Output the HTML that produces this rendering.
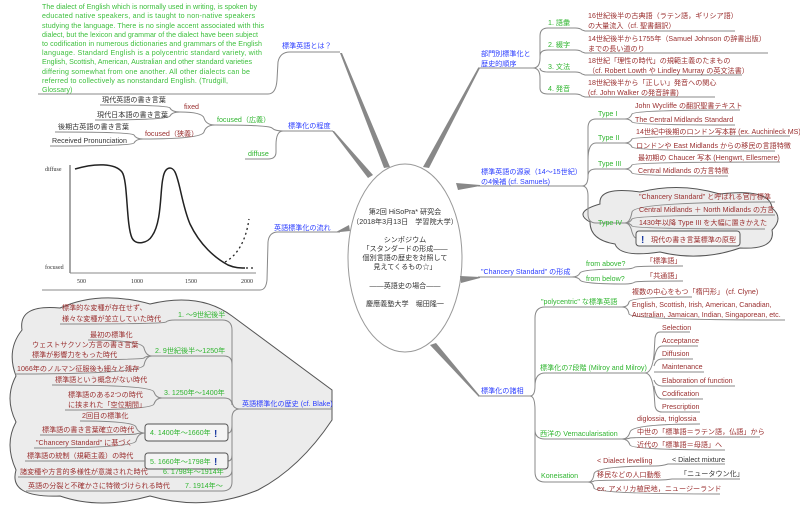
<!DOCTYPE html>
<html><head><meta charset="utf-8"><style>
html,body{margin:0;padding:0;background:#fff;}
svg{display:block;}
text{font-family:"Liberation Sans","Noto Sans CJK JP",sans-serif;font-size:7.1px;}
.b{fill:#2b3dff}.g{fill:#2fb52f}.r{fill:#9a2f2f}.k{fill:#333}
.u{stroke:#888;stroke-width:1;fill:none}
.p{font-size:7.4px;fill:#3cbf3c}
.s{font-family:"Liberation Serif",serif;font-size:6px;fill:#333}
</style></head><body>
<svg width="800" height="506" viewBox="0 0 800 506" xmlns="http://www.w3.org/2000/svg">
<!-- clouds -->
<path d="M22,330 Q18,304 60,308 Q100,290 150,304 Q200,292 232,316 L332,390 L332,420 Q300,468 258,490 Q205,512 150,496 Q100,510 60,496 Q8,498 16,470 Q4,444 16,422 Q4,398 16,376 Q6,350 22,330 Z" fill="#ececec" stroke="#555" stroke-width="1"/>
<path d="M590,222 Q572,212 600,204 Q598,186 640,192 Q680,182 720,194 Q770,188 772,208 Q784,218 772,230 Q776,250 740,248 Q700,262 660,252 Q620,258 615,244 Q590,240 590,222 Z" fill="#ececec" stroke="#555"/>
<!-- center ellipse -->
<ellipse cx="405" cy="258" rx="57" ry="94" fill="#fff" stroke="#999"/>
<!-- main tapered branches -->
<polygon points="384,168 390,167 342,53 340,53" fill="#888"/>
<polygon points="368,178 373,175 334,131 332,131" fill="#888"/>
<polygon points="349,225 350,231 340,232 336,232" fill="#888"/>
<polygon points="423,167 429,168 480,68 478,68" fill="#888"/>
<polygon points="456,183 458,190 480,186 480,185" fill="#888"/>
<polygon points="460,276 461,283 480,278 480,277" fill="#888"/>
<polygon points="430,345 436,343 480,396 478,396" fill="#888"/>
<!-- paragraph -->
<g class="p">
<text x="42" y="9" textLength="215" lengthAdjust="spacing">The dialect of English which is normally used in writing, is spoken by</text>
<text x="42" y="18" textLength="213" lengthAdjust="spacing">educated native speakers, and is taught to non-native speakers</text>
<text x="42" y="28" textLength="222" lengthAdjust="spacing">studying the language. There is no single accent associated with this</text>
<text x="42" y="37" textLength="216" lengthAdjust="spacing">dialect, but the lexicon and grammar of the dialect have been subject</text>
<text x="42" y="46" textLength="220" lengthAdjust="spacing">to codification in numerous dictionaries and grammars of the English</text>
<text x="42" y="55" textLength="220" lengthAdjust="spacing">language. Standard English is a polycentric standard variety, with</text>
<text x="42" y="64" textLength="210" lengthAdjust="spacing">English, Scottish, American, Australian and other standard varieties</text>
<text x="42" y="74" textLength="208" lengthAdjust="spacing">differing somewhat from one another. All other dialects can be</text>
<text x="42" y="83" textLength="186" lengthAdjust="spacing">referred to collectively as nonstandard English. (Trudgill,</text>
<text x="42" y="92">Glossary)</text>
</g>
<path class="u" d="M38,94 L268,94 Q276,94 277,80 L278,62 Q280,52 290,52 L340,52"/>
<text class="b" x="282" y="48">標準英語とは？</text>
<!-- 標準化の程度 -->
<text class="b" x="288" y="128">標準化の程度</text>
<path class="u" d="M333,131 L283,131 Q275,131 272,128 Q268,125 215,125"/>
<path class="u" d="M283,131 Q276,131 276,145 L276,152 Q276,159 268,159 L245,159"/>
<text class="g" x="217" y="122">focused（広義）</text>
<text class="g" x="248" y="156">diffuse</text>
<path class="u" d="M215,125 Q206,125 204,118 Q202,112 180,112"/>
<path class="u" d="M215,125 Q206,125 204,132 Q202,139 143,139"/>
<text class="r" x="184" y="109">fixed</text>
<text class="r" x="145" y="136">focused（狭義）</text>
<path class="u" d="M180,112 Q172,112 170,108 Q168,105 100,105"/>
<path class="u" d="M180,112 Q172,112 170,116 Q168,120 95,120"/>
<text class="k" x="102" y="102">現代英語の書き言葉</text>
<text class="k" x="97" y="117">現代日本語の書き言葉</text>
<path class="u" d="M143,139 Q136,139 134,135 Q132,132 55,132"/>
<path class="u" d="M143,139 Q136,139 134,143 Q132,146 50,146"/>
<text class="k" x="58" y="129">後期古英語の書き言葉</text>
<text class="k" x="52" y="143">Received Pronunciation</text>
<!-- graph -->
<line x1="70" y1="165" x2="70" y2="273" stroke="#888" stroke-width="1.5"/>
<line x1="70" y1="273" x2="256" y2="273" stroke="#888" stroke-width="1"/>
<text class="s" x="45" y="171">diffuse</text>
<text class="s" x="45" y="269">focused</text>
<text class="s" x="77" y="283">500</text>
<text class="s" x="131" y="283">1000</text>
<text class="s" x="185" y="283">1500</text>
<text class="s" x="241" y="283">2000</text>
<path d="M75,169 C95,163 115,163 122,172 C128,180 126,225 132,238 C136,246 148,243 152,236 C162,222 160,190 163,178 C165,166 172,166 175,172 C180,182 182,205 190,224 C200,245 215,258 228,265 C235,268 240,268 245,268" fill="none" stroke="#222" stroke-width="1.5"/>
<path d="M225,262 C238,255 246,240 249,219" fill="none" stroke="#222" stroke-width="1.3" stroke-dasharray="2,3"/>
<path d="M246,268 L256,268" stroke="#222" stroke-width="1.3" stroke-dasharray="2,3"/>
<path class="u" d="M42,290 L260,290 Q266,290 267,280 L268,242 Q269,232 278,232 L340,232"/>
<text class="b" x="274" y="230">英語標準化の流れ</text>
<!-- center text -->
<g class="k" text-anchor="middle">
<text x="405" y="214">第2回 HiSoPra* 研究会</text>
<text x="405" y="224">（2018年3月13日　学習院大学）</text>
<text x="405" y="242">シンポジウム</text>
<text x="405" y="251">「スタンダードの形成――</text>
<text x="405" y="260">個別言語の歴史を対照して</text>
<text x="405" y="269">見えてくるもの☆」</text>
<text x="405" y="288">――英語史の場合――</text>
<text x="405" y="306">慶應義塾大学　堀田隆一</text>
</g>
<!-- history -->
<text class="b" x="242" y="406">英語標準化の歴史 (cf. Blake)</text>
<path class="u" d="M332,409 L240,409 Q232,409 232,400 L232,330 Q232,320 222,320 L175,320"/>
<path class="u" d="M240,409 Q232,409 232,418 L232,482 Q232,491 222,491 L180,491"/>
<path class="u" d="M232,364 Q232,356 224,356 L152,356"/>
<path class="u" d="M232,405 Q232,398 224,398 L162,398"/>
<path class="u" d="M232,425 Q232,433 228,433"/>
<path class="u" d="M232,455 Q232,461 228,461"/>
<path class="u" d="M232,470 Q232,477 224,477 L160,477"/>
<rect x="145" y="424" width="83" height="17" rx="3" fill="#f4f4f4" stroke="#555"/>
<rect x="145" y="453" width="83" height="16" rx="3" fill="#f4f4f4" stroke="#555"/>
<g class="g">
<text x="178" y="317">1. ～9世紀後半</text>
<text x="155" y="353">2. 9世紀後半～1250年</text>
<text x="164" y="395">3. 1250年～1400年</text>
<text x="150" y="435">4. 1400年～1660年</text>
<text x="150" y="464">5. 1660年～1798年</text>
<text x="163" y="474">6. 1798年～1914年</text>
<text x="185" y="488">7. 1914年～</text>
</g>
<text x="214" y="437" fill="#1a3aa0" font-weight="bold" style="font-size:10px">!</text>
<text x="214" y="465" fill="#1a3aa0" font-weight="bold" style="font-size:10px">!</text>
<path class="u" d="M175,320 Q168,320 166,322 Q164,324 60,324"/>
<path class="u" d="M152,356 Q146,356 144,348 Q142,340 88,340"/>
<path class="u" d="M152,356 Q146,356 144,358 Q142,360 30,360"/>
<path class="u" d="M152,356 Q146,356 144,365 Q142,374 15,374"/>
<path class="u" d="M162,398 Q156,398 154,392 Q152,385 52,385"/>
<path class="u" d="M162,398 Q156,398 154,404 Q152,410 65,410"/>
<path class="u" d="M145,433 Q138,433 136,427 Q134,421 80,421"/>
<path class="u" d="M145,433 Q138,433 136,434 Q134,435 40,435"/>
<path class="u" d="M145,433 Q138,433 136,441 Q134,448 34,448"/>
<path class="u" d="M145,461 L25,461"/>
<path class="u" d="M160,477 L18,477"/>
<path class="u" d="M180,491 L26,491"/>
<g class="r">
<text x="62" y="310">標準的な変種が存在せず、</text>
<text x="62" y="321">様々な変種が並立していた時代</text>
<text x="90" y="337">最初の標準化</text>
<text x="32" y="347">ウェストサクソン方言の書き言葉</text>
<text x="32" y="357">標準が影響力をもった時代</text>
<text x="17" y="371">1066年のノルマン征服後も細々と残存</text>
<text x="55" y="382">標準語という概念がない時代</text>
<text x="68" y="397">標準語のある2つの時代</text>
<text x="68" y="407">に挟まれた「空位期間」</text>
<text x="82" y="418">2回目の標準化</text>
<text x="42" y="432">標準語の書き言葉確立の時代</text>
<text x="36" y="445">"Chancery Standard" に基づく</text>
<text x="27" y="458">標準語の統制（規範主義）の時代</text>
<text x="20" y="474">諸変種や方言的多様性が意識された時代</text>
<text x="28" y="488">英語の分裂と不確かさに特徴づけられる時代</text>
</g>
<!-- 部門別 -->
<text class="b" x="481" y="56">部門別標準化と</text>
<text class="b" x="481" y="66">歴史的順序</text>
<path class="u" d="M478,68 L533,68 Q540,68 540,58 L540,36 Q540,28 548,28 L575,28"/>
<path class="u" d="M533,68 Q540,68 540,78 L540,88 Q540,94 548,94 L575,94"/>
<path class="u" d="M540,56 Q540,50 548,50 L575,50"/>
<path class="u" d="M540,68 Q540,72 548,72 L575,72"/>
<g class="g">
<text x="548" y="25">1. 語彙</text>
<text x="548" y="47">2. 綴字</text>
<text x="548" y="69">3. 文法</text>
<text x="548" y="91">4. 発音</text>
</g>
<path class="u" d="M575,28 Q580,28 582,30 L585,31 L735,31"/>
<path class="u" d="M575,50 Q580,50 582,52 L585,53 L768,53"/>
<path class="u" d="M575,72 Q580,72 582,74 L585,75 L742,75"/>
<path class="u" d="M575,94 Q580,94 582,96 L585,97 L715,97"/>
<g class="r">
<text x="588" y="18">16世紀後半の古典語（ラテン語，ギリシア語）</text>
<text x="588" y="28">の大量流入（cf. 聖書翻訳）</text>
<text x="588" y="41">14世紀後半から1755年（Samuel Johnson の辞書出版）</text>
<text x="588" y="51">までの長い道のり</text>
<text x="588" y="63">18世紀「理性の時代」の規範主義のたまもの</text>
<text x="588" y="73">（cf. Robert Lowth や Lindley Murray の英文法書）</text>
<text x="588" y="85">18世紀後半から「正しい」発音への関心</text>
<text x="588" y="95">(cf. John Walker の発音辞書)</text>
</g>
<!-- 源泉 -->
<text class="b" x="481" y="174">標準英語の源泉（14～15世紀）</text>
<text class="b" x="481" y="184">の4候補 (cf. Samuels)</text>
<path class="u" d="M478,186 L582,186 Q588,186 588,176 L588,128 Q588,119 596,119 L625,119"/>
<path class="u" d="M588,160 Q588,143 596,143 L625,143"/>
<path class="u" d="M588,176 Q588,169 596,169 L625,169"/>
<path class="u" d="M582,186 Q588,186 588,196 L588,214 Q588,223 596,223 L625,223"/>
<g class="g">
<text x="598" y="116">Type I</text>
<text x="598" y="140">Type II</text>
<text x="598" y="166">Type III</text>
<text x="598" y="225">Type IV</text>
</g>
<path class="u" d="M625,119 Q630,119 632,114 Q634,110 740,110"/>
<path class="u" d="M625,119 Q630,119 632,122 Q634,125 735,125"/>
<path class="u" d="M625,143 Q630,143 632,139 Q634,136 790,136"/>
<path class="u" d="M625,143 Q630,143 632,147 Q634,151 775,151"/>
<path class="u" d="M625,169 Q630,169 632,165 Q634,162 780,162"/>
<path class="u" d="M625,169 Q630,169 632,173 Q634,176 728,176"/>
<path class="u" d="M625,223 Q630,223 632,212 Q634,202 775,202"/>
<path class="u" d="M625,223 Q630,223 632,219 Q634,215 775,215"/>
<path class="u" d="M625,223 Q630,223 632,226 Q634,229 765,229"/>
<path class="u" d="M625,223 Q630,223 632,232 Q634,238 636,238"/>
<rect x="636" y="231" width="104" height="15" rx="3" fill="#f6f6f6" stroke="#555"/>
<g class="r">
<text x="635" y="108">John Wycliffe の翻訳聖書テキスト</text>
<text x="635" y="122">The Central Midlands Standard</text>
<text x="636" y="134">14世紀中後期のロンドン写本群 (ex. Auchinleck MS)</text>
<text x="636" y="148">ロンドンや East Midlands からの移民の言語特徴</text>
<text x="638" y="160">最初期の Chaucer 写本 (Hengwrt, Ellesmere)</text>
<text x="638" y="173">Central Midlands の方言特徴</text>
<text x="639" y="199">"Chancery Standard" と呼ばれる官庁標準</text>
<text x="639" y="212">Central Midlands ＋ North Midlands の方言</text>
<text x="639" y="225">1430年以降 Type III を大幅に置きかえた</text>
<text x="651" y="242">現代の書き言葉標準の原型</text>
</g>
<text x="641" y="243" fill="#1a3aa0" font-weight="bold" style="font-size:10px">!</text>
<!-- Chancery -->
<text class="b" x="481" y="274">"Chancery Standard" の形成</text>
<path class="u" d="M478,277 L572,277 Q578,277 580,273 Q582,269 625,269"/>
<path class="u" d="M572,277 Q578,277 580,280 Q582,284 625,284"/>
<text class="g" x="586" y="266">from above?</text>
<text class="g" x="586" y="281">from below?</text>
<path class="u" d="M625,269 Q632,269 635,267 Q638,266 683,266"/>
<path class="u" d="M625,284 Q632,284 635,282 Q638,281 683,281"/>
<text class="r" x="646" y="263">「標準語」</text>
<text class="r" x="646" y="278">「共通語」</text>
<!-- 諸相 -->
<text class="b" x="481" y="393">標準化の諸相</text>
<path class="u" d="M478,396 L530,396 Q535,396 535,386 L535,318 Q535,307 545,307 L622,307"/>
<path class="u" d="M535,386 Q535,373 545,373 L645,373"/>
<path class="u" d="M530,396 Q535,396 535,410 L535,430 Q535,439 545,439 L622,439"/>
<path class="u" d="M535,430 L535,472 Q535,482 545,482 L588,482"/>
<text class="g" x="541" y="304">"polycentric" な標準英語</text>
<text class="g" x="540" y="370">標準化の7段階 (Milroy and Milroy)</text>
<text class="g" x="540" y="436">西洋の Vernacularisation</text>
<text class="g" x="541" y="478">Koneisation</text>
<path class="u" d="M622,307 Q628,307 629,302 Q630,297 692,297"/>
<path class="u" d="M622,307 Q628,307 629,314 Q630,320 785,320"/>
<g class="r">
<text x="632" y="294">複数の中心をもつ「楕円形」 (cf. Clyne)</text>
<text x="632" y="307">English, Scottish, Irish, American, Canadian,</text>
<text x="632" y="317">Australian, Jamaican, Indian, Singaporean, etc.</text>
</g>
<path class="u" d="M645,373 Q652,373 654,355 L655,338 Q656,332 660,332 L690,332"/>
<path class="u" d="M654,360 Q656,346 662,346 L698,346"/>
<path class="u" d="M654,366 Q656,359 662,359 L693,359"/>
<path class="u" d="M654,372 Q656,372 662,372 L704,372"/>
<path class="u" d="M654,380 Q656,386 662,386 L735,386"/>
<path class="u" d="M654,386 Q656,399 662,399 L703,399"/>
<path class="u" d="M645,373 Q652,373 654,392 L655,406 Q656,412 662,412 L700,412"/>
<g class="r">
<text x="662" y="330">Selection</text>
<text x="662" y="343">Acceptance</text>
<text x="662" y="356">Diffusion</text>
<text x="662" y="369">Maintenance</text>
<text x="662" y="383">Elaboration of function</text>
<text x="662" y="396">Codification</text>
<text x="662" y="409">Prescription</text>
</g>
<path class="u" d="M622,439 Q628,439 630,432 Q632,424 700,424"/>
<path class="u" d="M622,439 Q628,439 630,438 Q632,437 760,437"/>
<path class="u" d="M622,439 Q628,439 630,445 Q632,450 725,450"/>
<g class="r">
<text x="637" y="421">diglossia, triglossia</text>
<text x="637" y="434">中世の「標準語＝ラテン語，仏語」から</text>
<text x="637" y="447">近代の「標準語＝母語」へ</text>
</g>
<path class="u" d="M588,482 Q593,482 594,474 Q595,466 655,466 Q662,466 668,464 L725,464"/>
<path class="u" d="M588,482 Q593,482 594,481 Q595,480 660,480 Q666,480 672,479 L740,479"/>
<path class="u" d="M588,482 Q593,482 594,488 Q595,494 720,494"/>
<g class="r">
<text x="597" y="463">&lt; Dialect levelling</text>
<text x="597" y="477">移民などの人口動態</text>
<text x="597" y="491">ex. アメリカ植民地，ニュージーランド</text>
</g>
<text class="k" x="672" y="462">&lt; Dialect mixture</text>
<text class="k" x="680" y="476">「ニュータウン化」</text>
</svg>
</body></html>
